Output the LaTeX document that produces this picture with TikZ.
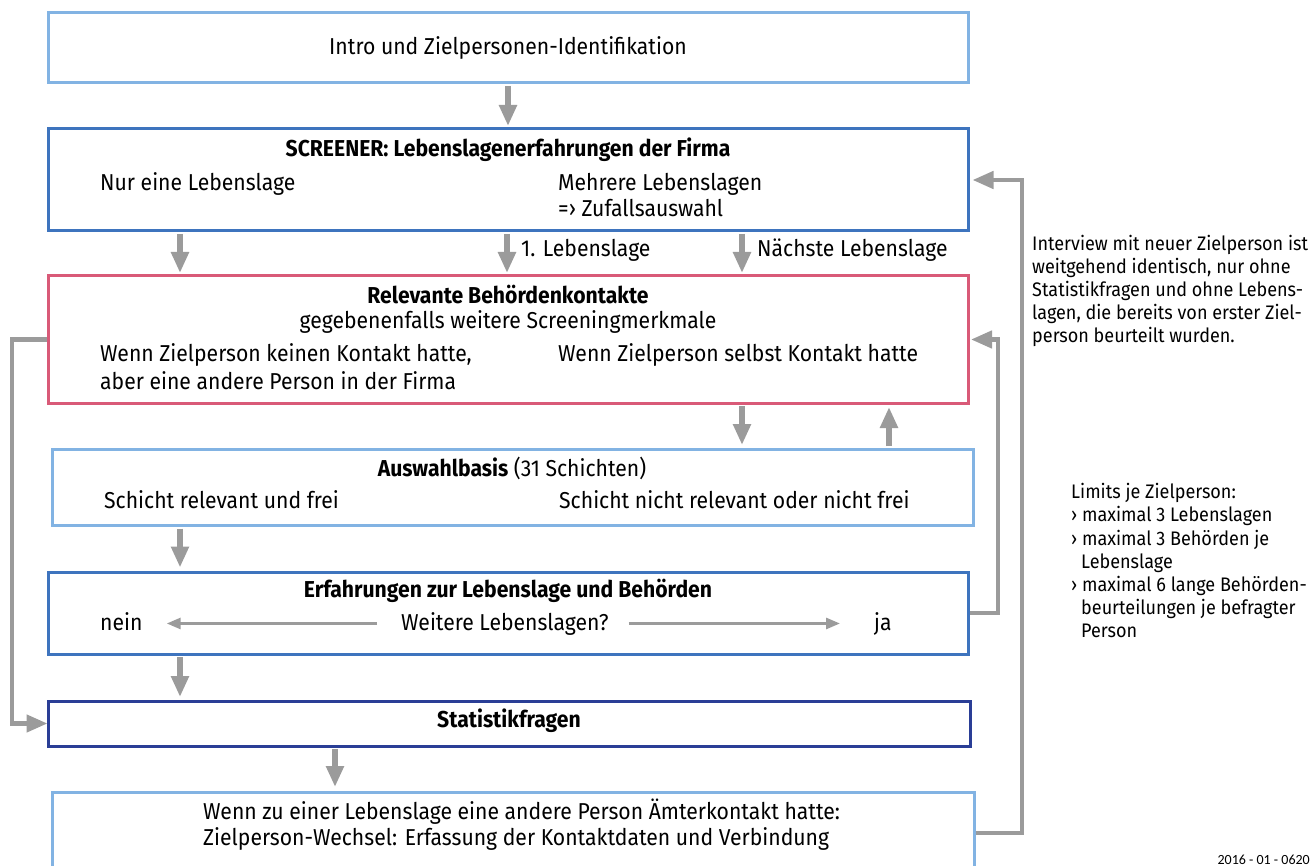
\documentclass[tikz,border=0pt]{standalone}
\usepackage{fontspec}
\setmainfont{Fira Sans}[FakeStretch=0.92]
\newfontfamily\datefont{Carlito}
\usetikzlibrary{arrows.meta}
\definecolor{lblue}{HTML}{82B3E3}
\definecolor{mblue}{HTML}{3E74BE}
\definecolor{pinkc}{HTML}{D95A78}
\definecolor{navy}{HTML}{2A3E96}
\definecolor{grayc}{HTML}{9B9B9B}
\begin{document}
\begin{tikzpicture}[x=1pt,y=-1pt,
  box/.style={draw, line width=3pt, rectangle, inner sep=0pt, anchor=center},
  mtxt/.style={inner sep=0pt, font=\fontsize{23}{26}\selectfont, anchor=base west},
  ctxt/.style={mtxt, anchor=base},
  stxt/.style={inner sep=0pt, font=\fontsize{19.6}{23}\selectfont, anchor=base west},
  arr/.style={draw=grayc, line width=5.5pt, -{Triangle[width=17pt,length=21pt]}},
  loopline/.style={draw=grayc, line width=4.5pt, -{Triangle[width=17pt,length=21pt]}},
  thin/.style={draw=grayc, line width=2.8pt, -{Triangle[width=11pt,length=14pt]}}
]
\useasboundingbox (0,0) rectangle (1314,866);
\clip (0,0) rectangle (1314,866);

% boxes
\node[box, draw=lblue, minimum width=920pt, minimum height=70pt] (intro) at (508,48) {};
\node[box, draw=mblue, minimum width=920pt, minimum height=102pt] (scr) at (508,180) {};
\node[box, draw=pinkc, minimum width=920.5pt, minimum height=127pt] (rel) at (508.25,339.5) {};
\node[box, draw=lblue, minimum width=920.5pt, minimum height=76.5pt] (ausw) at (512.8,487.25) {};
\node[box, draw=mblue, minimum width=920.5pt, minimum height=82pt] (erf) at (508.25,613) {};
\node[box, draw=navy, minimum width=922.5pt, minimum height=45pt] (stat) at (509.25,723.5) {};
\node[box, draw=lblue, minimum width=921.5pt, minimum height=82pt] (bot) at (513.3,833) {};

% texts
\node[ctxt] (t1) at (508,55) {Intro und Zielpersonen-Identifikation};
\node[ctxt, font=\fontsize{23}{26}\selectfont\bfseries] (t2) at (508,157) {SCREENER: Lebenslagenerfahrungen der Firma};
\node[mtxt] (t3) at (100,191) {Nur eine Lebenslage};
\node[mtxt] (t4) at (558,191) {Mehrere Lebenslagen};
\node[mtxt] (t5) at (558,217) {=› Zufallsauswahl};
\node[mtxt] (l1) at (521,257) {1. Lebenslage};
\node[mtxt] (l2) at (757,257) {Nächste Lebenslage};
\node[ctxt, font=\fontsize{23}{26}\selectfont\bfseries] (t6) at (508,304) {Relevante Behördenkontakte};
\node[ctxt] (t7) at (508,329) {gegebenenfalls weitere Screeningmerkmale};
\node[mtxt] (t8) at (100,362) {Wenn Zielperson keinen Kontakt hatte,};
\node[mtxt] (t9) at (100,389) {aber eine andere Person in der Firma};
\node[mtxt] (t10) at (558,362) {Wenn Zielperson selbst Kontakt hatte};
\node[ctxt] (t11) at (512,476) {\textbf{Auswahlbasis} (31 Schichten)};
\node[mtxt] (t12) at (104,508) {Schicht relevant und frei};
\node[mtxt] (t13) at (559,508) {Schicht nicht relevant oder nicht frei};
\node[ctxt, font=\fontsize{23}{26}\selectfont\bfseries] (t14) at (508,597) {Erfahrungen zur Lebenslage und Behörden};
\node[mtxt] (nein) at (100,630) {nein};
\node[mtxt] (weit) at (401,630) {Weitere Lebenslagen?};
\node[mtxt] (ja) at (874,630) {ja};
\node[ctxt, font=\fontsize{23}{26}\selectfont\bfseries] (t15) at (509,727) {Statistikfragen};
\node[mtxt] (t16) at (203,819) {Wenn zu einer Lebenslage eine andere Person Ämterkontakt hatte:};
\node[mtxt] (t17) at (203,845) {Zielperson-Wechsel: Erfassung der Kontaktdaten und Verbindung};

% side notes
\node[stxt] (s1) at (1032,250.5) {Interview mit neuer Zielperson ist};
\node[stxt] (s2) at (1032,273.8) {weitgehend identisch, nur ohne};
\node[stxt] (s3) at (1032,297) {Statistikfragen und ohne Lebens-};
\node[stxt] (s4) at (1032,319.5) {lagen, die bereits von erster Ziel-};
\node[stxt] (s5) at (1032,342.8) {person beurteilt wurden.};
\node[stxt] (m1) at (1071,498) {Limits je Zielperson:};
\node[stxt] (m2) at (1071,521.5) {› maximal 3 Lebenslagen};
\node[stxt] (m3) at (1071,545) {› maximal 3 Behörden je};
\node[stxt] (m4) at (1081,568) {Lebenslage};
\node[stxt] (m5) at (1071,591) {› maximal 6 lange Behörden-};
\node[stxt] (m6) at (1081,614) {beurteilungen je befragter};
\node[stxt] (m7) at (1081,637) {Person};
\node[inner sep=0pt, anchor=base east, font=\datefont\fontsize{14}{16}\selectfont] (date) at (1310,864) {2016 - 01 - 0620};

% x positions of connectors
\coordinate (xa) at (180,0);
\coordinate (xb) at (507,0);
\coordinate (xc) at (742,0);
\coordinate (xd) at (889,0);
\coordinate (xe) at (335,0);
\coordinate (xl) at (12,0);
\coordinate (xr1) at (998,0);
\coordinate (xr2) at (1022,0);

% connectors
\draw[arr, shorten <=1.5pt, shorten >=1.5pt] (intro.south) -- (scr.north);
\draw[arr, shorten <=1.5pt, shorten >=1.5pt] (scr.south -| xa) -- (rel.north -| xa);
\draw[arr, shorten <=1.5pt, shorten >=1.5pt] (scr.south -| xb) -- (rel.north -| xb);
\draw[arr, shorten <=1.5pt, shorten >=1.5pt] (scr.south -| xc) -- (rel.north -| xc);
\draw[arr, shorten <=1.5pt, shorten >=2.5pt] (rel.south -| xc) -- (ausw.north -| xc);
\draw[arr, shorten <=1.5pt, shorten >=2.5pt] (ausw.north -| xd) -- (rel.south -| xd);
\draw[arr, shorten <=1.5pt, shorten >=3pt] (ausw.south -| xa) -- (erf.north -| xa);
\draw[arr, shorten <=1.5pt, shorten >=2.5pt] (erf.south -| xa) -- (stat.north -| xa);
\draw[arr, shorten <=1.5pt, shorten >=3.5pt] (stat.south -| xe) -- (bot.north -| xe);

\draw[loopline, shorten >=-1pt] (rel.west) -- (rel.west -| xl) -- (stat.west -| xl) -- (stat.west);
\draw[loopline, shorten >=1pt] (erf.east) -- (erf.east -| xr1) -- (rel.east -| xr1) -- (rel.east);
\draw[loopline, shorten >=3pt] (bot.east) -- (bot.east -| xr2) -- (scr.east -| xr2) -- (scr.east);

\draw[thin, shorten <=24pt, shorten >=24pt] (weit.west) -- (weit.west -| nein.east);
\draw[thin, shorten <=20pt, shorten >=34pt] (weit.east) -- (weit.east -| ja.west);
\end{tikzpicture}
\end{document}
